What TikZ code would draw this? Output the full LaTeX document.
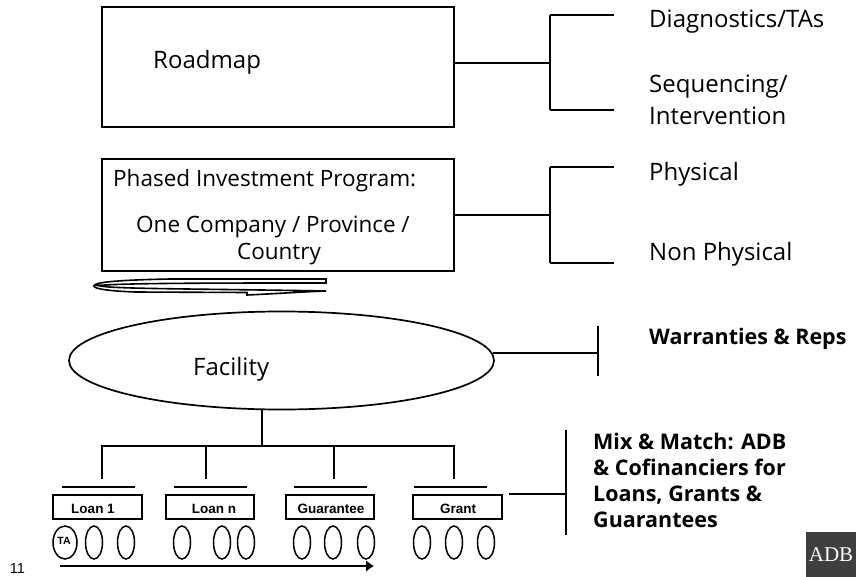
\documentclass[tikz,border=0pt]{standalone}
\usepackage{fontspec}
\setmainfont{Open Sans}
\newfontfamily\arialfont{Liberation Sans}
\newfontfamily\adbfont{Liberation Serif}
\usetikzlibrary{calc, shapes.geometric, arrows.meta}
\definecolor{adbgrey}{HTML}{3F3F3F}
\tikzset{
  bigbox/.style={draw,line width=2pt,inner sep=0pt},
  loanbox/.style={draw,line width=1.6pt,inner sep=0pt,minimum height=24pt},
  loantxt/.style={anchor=base,inner sep=0pt,font=\arialfont\bfseries\fontsize{13.5}{15}\selectfont},
  lbl/.style={anchor=base west,inner sep=0pt,font=\fontsize{24}{28}\selectfont},
  boxlbl/.style={anchor=base west,inner sep=0pt,font=\fontsize{22.5}{26}\selectfont},
  mixlbl/.style={anchor=base west,inner sep=0pt,font=\bfseries\fontsize{21.5}{26}\selectfont},
  link/.style={line width=2pt},
  oval/.style={draw,ellipse,line width=1.5pt,inner sep=0pt,minimum width=#1,minimum height=33pt},
  oval/.default=17pt
}
\newcommand\bracket[5]{% from node, y of link, x of bar, top y, bottom y
  \coordinate (J) at (#3,#2);
  \draw[link] (#3,#4) -- (#3,#5);
  \draw[link] (#3,#4) -- (614,#4) (#3,#5) -- (614,#5);
  \draw[link] (#1 |- J) -- (J);
}
\begin{document}
\begin{tikzpicture}[x=1pt,y=-1pt]
  \useasboundingbox (0,0) rectangle (856,577);
  % top boxes
  \node[bigbox,minimum width=352pt,minimum height=120pt] (roadmap) at (278,67) {};
  \node[bigbox,minimum width=352pt,minimum height=112pt] (phased) at (278,215) {};
  \node[lbl] (roadmaptxt) at (153,69) {Roadmap};
  \node[boxlbl] (phasedone) at (113,187) {Phased Investment Program:};
  \node[boxlbl] (phasedtwo) at (136,233) {One Company / Province /};
  \node[boxlbl,anchor=base] (phasedthree) at (279,259) {Country};
  \bracket{roadmap.east}{63}{550}{15}{110.5}
  \bracket{phased.east}{215}{550}{167}{263}
  \node[lbl] (diag) at (649,28) {Diagnostics/TAs};
  \node[lbl] (seq) at (649,93) {Sequencing/};
  \node[lbl] (interv) at (649,125) {Intervention};
  \node[lbl] (phys) at (649,181) {Physical};
  \node[lbl] (nonphys) at (649,261) {Non Physical};
  % flattened ribbon under the box
  \draw[line width=1.6pt,fill=white] (326,279) -- (326,283) .. controls (220,283) and (125,283) .. (98,285.5)
    .. controls (110,289) and (180,288.5) .. (326,291) .. controls (300,292) and (270,294) .. (247,295) -- (247,292.5)
    -- (135,292) .. controls (110,291) and (94,289) .. (94,286) .. controls (94,282) and (120,280) .. (170,279) -- cycle;
  % facility
  \node[draw,ellipse,line width=1.7pt,inner sep=0pt,minimum width=425pt,minimum height=98pt] (facility) at (281.5,360.5) {};
  \node[lbl] (facilitytxt) at (193,375) {Facility};
  \coordinate (wtop) at (598,326);
  \coordinate (wbot) at (598,376);
  \draw[link] (wtop) -- (wbot);
  \draw[link] (facility.2.5) -- (facility.2.5 -| wtop);
  \node[mixlbl] (warr) at (649,344) {Warranties \& Reps};
  % instruments
  \coordinate (fbot) at (262,409);
  \coordinate (hub) at (262,446);
  \draw[link] (fbot) -- (hub);
  \draw[link] (101,446) -- (454.5,446);
  \foreach \name/\cx/\boxw/\tx/\txt/\dropx/\barx in {loanone/97.5/89/93/Loan 1/102/98.5,loann/210/88/214/Loan n/206/210,guar/330/88/331/Guarantee/333.5/330,grant/457.5/89/458/Grant/453.5/450}{
    \node[loanbox,minimum width=\boxw pt] (\name) at (\cx,507) {};
    \node[loantxt] (\name txt) at (\tx,513) {\txt};
    \draw[link] (\dropx,446) -- (\dropx,479);
    \draw[link] (\barx-36.5,487) -- (\barx+36.5,487);
  }
  \node[oval=24pt] (ta) at (65,542.5) {};
  \node[inner sep=0pt,font=\arialfont\bfseries\fontsize{10.5}{12}\selectfont] (tatxt) at (64,541) {TA};
  \foreach \cx [count=\i] in {94,126,182,222,246,302,333,366,422,454,486}{
    \node[oval] (e\i) at (\cx,542.5) {};
  }
  % time arrow
  \coordinate (tstart) at (60,566);
  \coordinate (tend) at (374,566);
  \draw[link,-{Latex[length=8pt,width=12pt]}] (tstart) -- (tend);
  % right hand note
  \coordinate (mtop) at (566,430);
  \coordinate (mbot) at (566,535);
  \draw[link] (mtop) -- (mbot);
  \draw[link] (509,494) -- (566,494);
  \node[mixlbl] (mixa) at (593,449) {Mix \& Match: ADB};
  \node[mixlbl] (mixb) at (593,475) {\& Cofinanciers for};
  \node[mixlbl] (mixc) at (593,501) {Loans, Grants \&};
  \node[mixlbl] (mixd) at (593,527) {Guarantees};
  \node[inner sep=0pt,font=\arialfont\fontsize{14.5}{16}\selectfont] (pagenum) at (17.5,569) {11};
  \node[fill=adbgrey,text=white,inner sep=0pt,minimum width=50pt,minimum height=45pt,font=\adbfont\fontsize{21}{23}\selectfont] (adb) at (831,554.5) {\raisebox{-7pt}{ADB}};
\end{tikzpicture}
\end{document}
